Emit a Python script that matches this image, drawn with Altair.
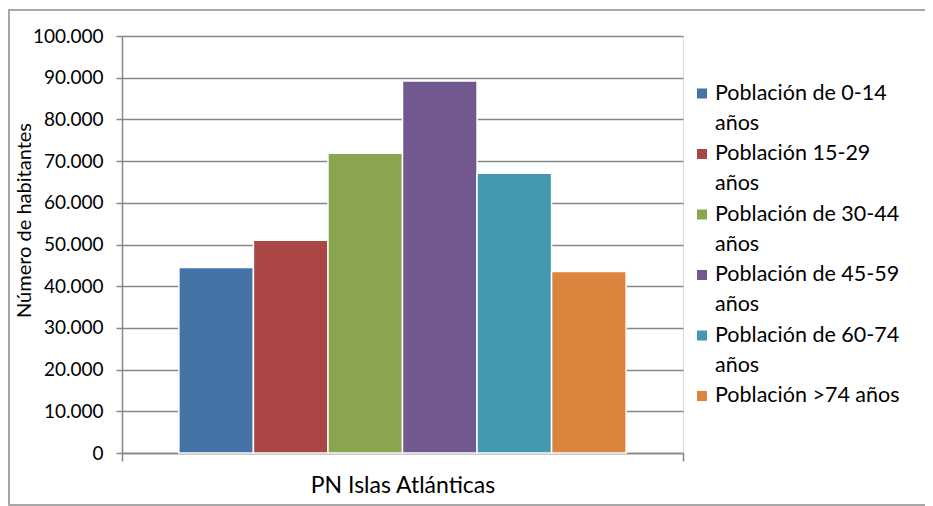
import altair as alt
import pandas as pd

category = "PN Islas Atlánticas"
series = [
    "Población de 0-14 años",
    "Población 15-29 años",
    "Población de 30-44 años",
    "Población de 45-59 años",
    "Población de 60-74 años",
    "Población >74 años",
]
legend_labels = [
    "Población de 0-14\naños",
    "Población 15-29\naños",
    "Población de 30-44\naños",
    "Población de 45-59\naños",
    "Población de 60-74\naños",
    "Población >74 años",
]
values = [44500, 51000, 71900, 89200, 67100, 43500]
colors = ["#4572A7", "#AA4643", "#89A54E", "#71588F", "#4198AF", "#DB843D"]
y_ticks = list(range(0, 100001, 10000))

df = pd.DataFrame({
    "cat": [category] * len(series),
    "serie": series,
    "valor": values,
    "etiqueta": legend_labels,
})

FONT = "Lato"
GRID = "#878787"

color_scale = alt.Scale(domain=series, range=colors)

bars = alt.Chart(df).mark_bar(stroke="white", strokeWidth=1.5).encode(
    x=alt.X(
        "cat:N",
        title=None,
        scale=alt.Scale(paddingInner=0, paddingOuter=0),
        axis=alt.Axis(
            labelAngle=0, labelFont=FONT, labelFontSize=23, labelColor="#000000",
            labelPadding=13, labelLimit=500, domainColor=GRID, domainWidth=1.5,
            tickColor=GRID, tickWidth=1.5, tickSize=8, tickBand="extent",
            grid=False,
        ),
    ),
    xOffset=alt.XOffset(
        "serie:N", sort=series,
        scale=alt.Scale(domain=series, paddingInner=0, paddingOuter=0.763),
    ),
    y=alt.Y(
        "valor:Q",
        scale=alt.Scale(domain=[0, 100000], nice=False),
        axis=alt.Axis(
            title="Número de habitantes", titleFont=FONT, titleFontSize=20,
            titleFontWeight="normal", titleColor="#000000",
            titleX=-92, titleY=184, titleAngle=270, titleBaseline="alphabetic",
            values=y_ticks,
            labelExpr="join(split(format(datum.value, ','), ','), '.')",
            labelFont=FONT, labelFontSize=19, labelColor="#000000", labelPadding=13,
            domainColor=GRID, domainWidth=1.5, tickColor=GRID, tickWidth=1.5, tickSize=6,
            gridColor=GRID, gridWidth=1.5,
        ),
    ),
    color=alt.Color("serie:N", scale=color_scale, legend=None),
)

frame = alt.Chart(df).mark_rect(fill=None, stroke="#A6A6A6", strokeWidth=1.2).encode(
    x=alt.value(-113), x2=alt.value(830), y=alt.value(-26), y2=alt.value(469)
)

leg_scale = alt.Scale(domain=series, range=[57.5, 360], padding=0)

leg_sym = alt.Chart(df).mark_square(size=100, opacity=1).encode(
    x=alt.value(580),
    y=alt.Y("serie:N", scale=leg_scale, axis=None, sort=series),
    color=alt.Color("serie:N", scale=color_scale, legend=None),
)

leg_txt = alt.Chart(df).mark_text(
    align="left", baseline="middle", font=FONT, fontSize=21.5, color="#000000",
    lineBreak="\n", lineHeight=30,
).encode(
    x=alt.value(593),
    y=alt.Y("serie:N", scale=leg_scale, axis=None, sort=series),
    text="etiqueta:N",
)

chart = alt.layer(bars, frame, leg_sym, leg_txt).resolve_scale(
    y="independent"
).properties(
    width=561, height=417,
    autosize=alt.AutoSizeParams(type="none"),
    padding={"left": 114, "top": 28, "right": 242, "bottom": 53},
).configure_view(stroke=None).configure(background="white")

chart.save("out.html", embed_options={"renderer": "svg", "actions": False})
